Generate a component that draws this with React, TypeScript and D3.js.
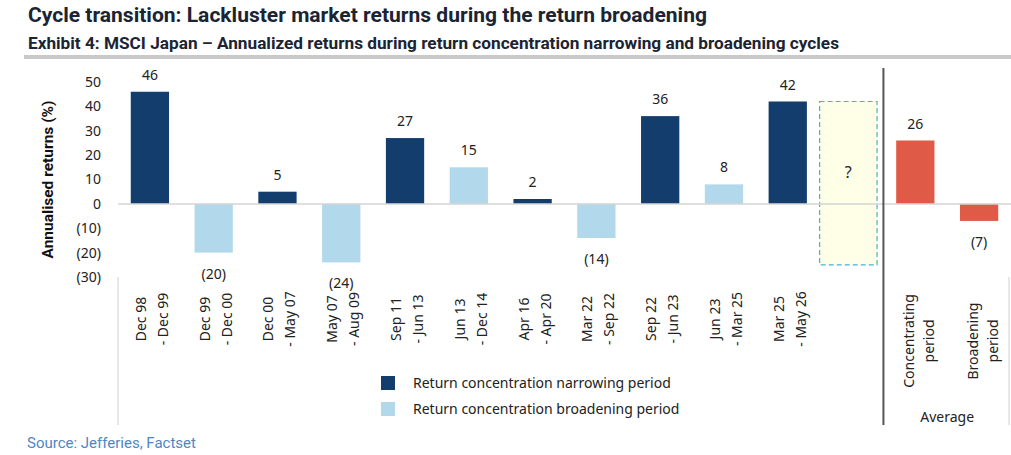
import React from 'react';
import * as d3 from 'd3';

// chart values
const periods = [
  ['Dec 98', '- Dec 99'],
  ['Dec 99', '- Dec 00'],
  ['Dec 00', '- May 07'],
  ['May 07', '- Aug 09'],
  ['Sep 11', '- Jun 13'],
  ['Jun 13', '- Dec 14'],
  ['Apr 16', '- Apr 20'],
  ['Mar 22', '- Sep 22'],
  ['Sep 22', '- Jun 23'],
  ['Jun 23', '- Mar 25'],
  ['Mar 25', '- May 26'],
];
const periodReturns = [46, -20, 5, -24, 27, 15, 2, -14, 36, 8, 42];
const periodTypes = ['narrow', 'broad', 'narrow', 'broad', 'narrow', 'broad', 'narrow', 'broad', 'narrow', 'broad', 'narrow'];
const unknownRange = [42, -25]; // the "?" box
const averages = [['Concentrating', 'period'], ['Broadening', 'period']];
const averageReturns = [26, -7];
const yTicks = [50, 40, 30, 20, 10, 0, -10, -20, -30];
const legendItems = [
  { key: 'narrow', label: 'Return concentration narrowing period' },
  { key: 'broad', label: 'Return concentration broadening period' },
];

const colors: Record<string, string> = { narrow: '#123d6d', broad: '#b1d9eb', avg: '#e05a48' };
const fmt = (v: number) => (v < 0 ? `(${Math.abs(v)})` : `${v}`);
const tickFont = "'Noto Sans', 'Open Sans', sans-serif";

export default function App() {
  const width = 1011;
  const height = 455;

  const keys = [...periods.map((_, i) => `p${i}`), 'unknown', 'a0', 'a1'];
  const x = d3.scaleBand<string>().domain(keys).range([118, 1011]).paddingInner(0.4).paddingOuter(0.2);
  const step = x.step();
  const y = d3.scaleLinear().domain([-30, 50]).range([277, 82]);

  const bars = [
    ...periodReturns.map((v, i) => ({ key: `p${i}`, value: v, color: colors[periodTypes[i]], lines: periods[i], avg: false })),
    ...averageReturns.map((v, i) => ({ key: `a${i}`, value: v, color: colors.avg, lines: averages[i], avg: true })),
  ];

  const bandStart = (k: string) => (x(k) ?? 0) - step * 0.2;
  const center = (k: string) => (x(k) ?? 0) + x.bandwidth() / 2;
  const dividerX = bandStart('a0');

  return (
    <svg width={width} height={height} style={{ position: 'absolute', left: 0, top: 0, background: '#fff' }}>
      {/* headings */}
      <text x={28} y={22} fontFamily="Roboto, sans-serif" fontWeight={700} fontSize={21} fill="#1b2433"
        textLength={679} lengthAdjust="spacingAndGlyphs">
        Cycle transition: Lackluster market returns during the return broadening
      </text>
      <text x={28} y={48.5} fontFamily="Roboto, sans-serif" fontWeight={700} fontSize={16.5} fill="#1b2433"
        textLength={811} lengthAdjust="spacingAndGlyphs">
        Exhibit 4: MSCI Japan – Annualized returns during return concentration narrowing and broadening cycles
      </text>
      <rect x={24} y={55} width={width - 24} height={4} fill="#c9c9c9" />

      {/* y axis */}
      <text transform={`translate(53,${(y(50) + y(-30)) / 2}) rotate(-90)`} textAnchor="middle"
        fontFamily="Roboto, sans-serif" fontWeight={700} fontSize={15.5} fill="#111">
        Annualised returns (%)
      </text>
      {yTicks.map(t => (
        <text key={t} x={101} y={y(t)} dy="0.35em" textAnchor="end" fontFamily={tickFont} fontSize={14} fill="#222">
          {fmt(t)}
        </text>
      ))}

      {/* category group lines */}
      <line x1={118} x2={118} y1={277} y2={425} stroke="#d0d0d0" />
      <line x1={1009} x2={1009} y1={277} y2={425} stroke="#d0d0d0" />

      {/* "?" box */}
      <rect x={bandStart('unknown')} y={y(unknownRange[0])} width={step * 0.9}
        height={y(unknownRange[1]) - y(unknownRange[0])} fill="#ffffe8" stroke="#45b4dc" strokeWidth={1.2} strokeDasharray="5,3" />
      <text x={bandStart('unknown') + step * 0.45} y={y(13)} dy="0.35em" textAnchor="middle" fontFamily={tickFont} fontSize={16} fill="#222">?</text>

      {/* bars */}
      {bars.map(b => (
        <g key={b.key}>
          <rect x={x(b.key)} width={x.bandwidth()} y={Math.min(y(b.value), y(0))} height={Math.abs(y(b.value) - y(0))} fill={b.color} />
          <text x={center(b.key)} y={b.value >= 0 ? y(b.value) - 12 : y(b.value) + 26} textAnchor="middle"
            fontFamily={tickFont} fontSize={14} fill="#222">
            {fmt(b.value)}
          </text>
          <g transform={`translate(${center(b.key)},${b.avg ? 341 : 319}) rotate(-90)`}>
            <text x={0} y={b.avg ? -1 : -4} textAnchor="middle" fontFamily={tickFont} fontSize={14} fill="#222">{b.lines[0]}</text>
            <text x={0} y={b.avg ? 19 : 18} textAnchor="middle" fontFamily={tickFont} fontSize={14} fill="#222">{b.lines[1]}</text>
          </g>
        </g>
      ))}

      {/* zero line */}
      <line x1={118} x2={width} y1={y(0)} y2={y(0)} stroke="#d4d4d4" strokeWidth={1.5} />

      {/* divider between periods and averages */}
      <line x1={dividerX} x2={dividerX} y1={68} y2={425} stroke="#555" strokeWidth={2} />
      <text x={(center('a0') + center('a1')) / 2} y={422} textAnchor="middle" fontFamily={tickFont} fontSize={14} fill="#222">Average</text>

      {/* legend */}
      {legendItems.map((l, i) => (
        <g key={l.key} transform={`translate(381,${376 + i * 26})`}>
          <rect width={14} height={14} fill={colors[l.key]} />
          <text x={32} y={7} dy="0.35em" fontFamily={tickFont} fontSize={14} fill="#222">{l.label}</text>
        </g>
      ))}

      <text x={27} y={448} fontFamily="Roboto, sans-serif" fontSize={15} fill="#4f86c4">Source: Jefferies, Factset</text>
    </svg>
  );
}
